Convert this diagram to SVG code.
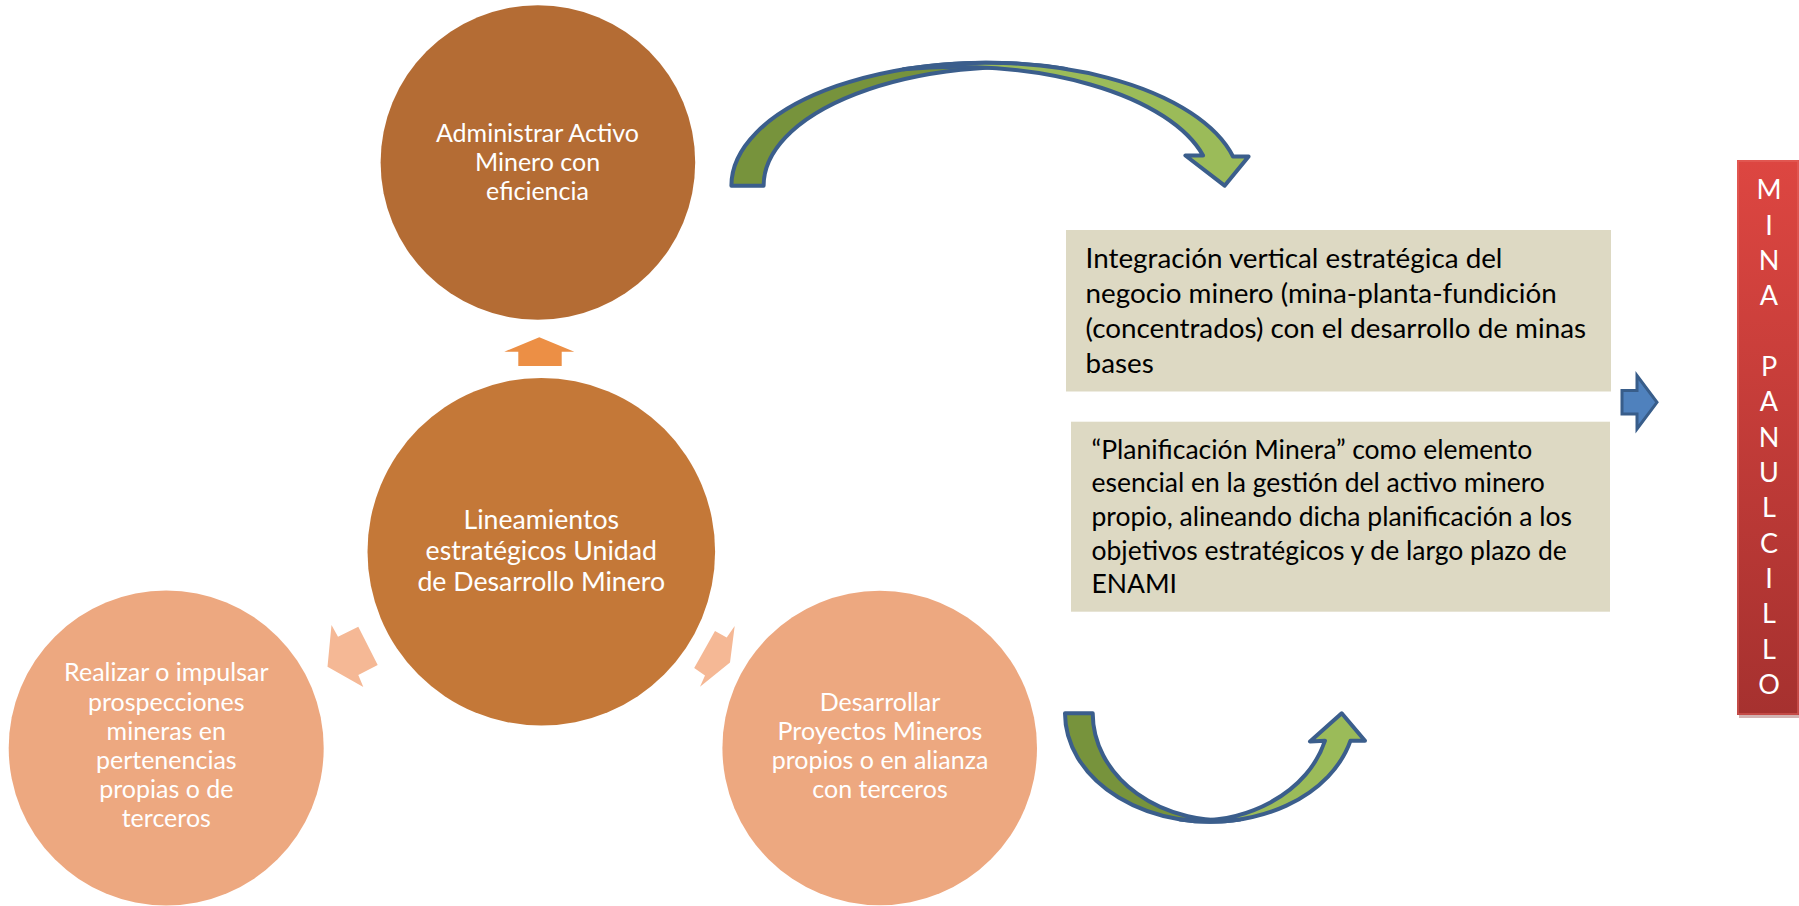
<svg xmlns="http://www.w3.org/2000/svg" width="1799" height="906" viewBox="0 0 1799 906">
<defs>
<linearGradient id="redGrad" x1="0" y1="0" x2="0" y2="1">
<stop offset="0" stop-color="#DD4641"/>
<stop offset="1" stop-color="#A6312F"/>
</linearGradient>
<style>
.ct{font-family:Lato,"Liberation Sans",sans-serif;fill:#FFFFFF;text-anchor:middle;font-size:25px}
.cc{font-size:26.7px}
.bt{font-family:Lato,"Liberation Sans",sans-serif;fill:#000000;font-size:27.8px}
.bt2{font-size:26.5px}
.mt{font-family:Lato,"Liberation Sans",sans-serif;fill:#FFFFFF;text-anchor:middle;font-size:27px}
.dark{fill:#77933C;stroke:#3B5E8C;stroke-width:4;stroke-linejoin:round}
.light{fill:#9BBB59;stroke:#3B5E8C;stroke-width:4;stroke-linejoin:round}
.side{fill:#F5B895}
</style>
</defs>
<rect width="1799" height="906" fill="#FFFFFF"/>

<g id="connectors">
<polygon points="539.3,337.3 574.3,351.7 561.7,351.7 561.7,366 518.3,366 518.3,351.7 504.3,351.7" fill="#EC8F45"/>
<polygon class="side" points="331.5,625 338,636.7 358.3,626.7 377.7,665 358.3,675 363.3,687 327.5,666.7"/>
<polygon class="side" points="715,631 726.7,637.5 734.7,626 730,662.5 700,686.7 705,675.5 694.2,668"/>
<path class="dark" d="M731.4,185.7 A254.6 123 0 0 1 1066,68.9 A253.8 119 0 0 0 763.6,185.7 Z"/>
<path class="light" d="M903.5,69.3 A254.6 123 0 0 1 1233,156.5 L1248.6,156.5 L1224.6,185.7 L1185.4,155.5 L1203.1,155.5 A255.2 119 0 0 0 903.5,69.3 Z"/>
<path class="dark" d="M1065,713.3 A145 108.4 0 0 0 1240,819.4 A130.4 107 0 0 1 1092.7,713.3 Z"/>
<path class="light" d="M1180,819.4 A145 108.4 0 0 0 1350.5,740.7 L1365,740.7 L1341.7,713.3 L1310,741.5 L1325,740.7 A132.3 107 0 0 1 1180,819.4 Z"/>
<polygon points="1622,390.5 1637,390.5 1637,375.5 1657,402.3 1637,429 1637,414 1622,414" fill="#4F81BD" stroke="#385D8A" stroke-width="3" stroke-linejoin="miter"/>
</g>

<g id="node-top">
<circle cx="537.9" cy="162.5" r="157.3" fill="#B46C34"/>
<text class="ct"><tspan x="537.5" y="141.5">Administrar Activo</tspan><tspan x="537.5" y="171">Minero con</tspan><tspan x="537.5" y="200">eficiencia</tspan></text>
</g>

<g id="node-center">
<circle cx="541.3" cy="551.7" r="173.8" fill="#C47838"/>
<text class="ct cc"><tspan x="541.3" y="529">Lineamientos</tspan><tspan x="541.3" y="559.5">estratégicos Unidad</tspan><tspan x="541.3" y="590.5">de Desarrollo Minero</tspan></text>
</g>

<g id="node-left">
<circle cx="166.2" cy="748" r="157.5" fill="#EDA880"/>
<text class="ct"><tspan x="166.3" y="681">Realizar o impulsar</tspan><tspan x="166.3" y="710.5">prospecciones</tspan><tspan x="166.3" y="739.5">mineras en</tspan><tspan x="166.3" y="768.5">pertenencias</tspan><tspan x="166.3" y="798">propias o de</tspan><tspan x="166.3" y="827">terceros</tspan></text>
</g>

<g id="node-right">
<circle cx="879.7" cy="748" r="157.3" fill="#EDA880"/>
<text class="ct"><tspan x="880" y="710.5">Desarrollar</tspan><tspan x="880" y="739.5">Proyectos Mineros</tspan><tspan x="880" y="768.5">propios o en alianza</tspan><tspan x="880" y="798">con terceros</tspan></text>
</g>

<g id="node-box1">
<rect x="1066" y="230" width="545" height="161.5" fill="#DDD9C3"/>
<text class="bt"><tspan x="1085.6" y="267.5">Integración vertical estratégica del</tspan><tspan x="1085.6" y="302.5">negocio minero (mina-planta-fundición</tspan><tspan x="1085.6" y="337.5">(concentrados) con el desarrollo de minas</tspan><tspan x="1085.6" y="372.5">bases</tspan></text>
</g>

<g id="node-box2">
<rect x="1071" y="421.7" width="539" height="190" fill="#DDD9C3"/>
<text class="bt bt2"><tspan x="1091.5" y="458.5">“Planificación Minera” como elemento</tspan><tspan x="1091.5" y="492">esencial en la gestión del activo minero</tspan><tspan x="1091.5" y="525.8">propio, alineando dicha planificación a los</tspan><tspan x="1091.5" y="559.8">objetivos estratégicos y de largo plazo de</tspan><tspan x="1091.5" y="592.5">ENAMI</tspan></text>
</g>

<g id="node-mina">
<rect x="1739" y="163" width="60" height="555" fill="#7F2422" opacity="0.35"/>
<rect x="1737" y="160" width="62" height="555" fill="url(#redGrad)"/>
<rect x="1738" y="161" width="60" height="553" fill="none" stroke="#E86A66" stroke-width="1.5" opacity="0.6"/>
<text class="mt"><tspan x="1769" y="199.3">M</tspan><tspan x="1769" y="234.6">I</tspan><tspan x="1769" y="269.9">N</tspan><tspan x="1769" y="305.3">A</tspan><tspan x="1769" y="375.9">P</tspan><tspan x="1769" y="411.2">A</tspan><tspan x="1769" y="446.5">N</tspan><tspan x="1769" y="481.9">U</tspan><tspan x="1769" y="517.2">L</tspan><tspan x="1769" y="552.5">C</tspan><tspan x="1769" y="587.8">I</tspan><tspan x="1769" y="623.1">L</tspan><tspan x="1769" y="658.5">L</tspan><tspan x="1769" y="693.8">O</tspan></text>
</g>
</svg>
